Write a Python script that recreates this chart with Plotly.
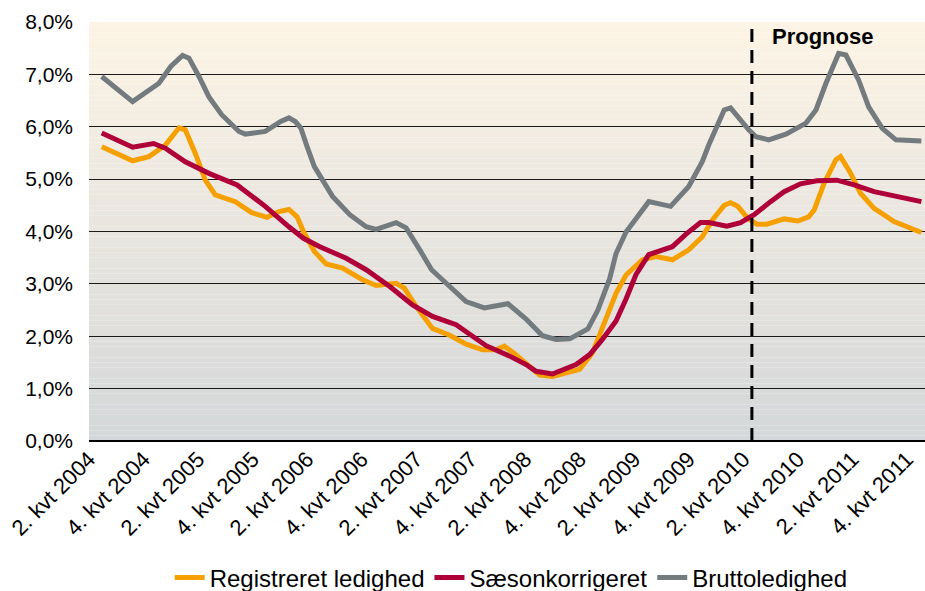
import plotly.graph_objects as go

# ---- data (x = months after the "2. kvt 2004" tick, y = unemployment %) ----
tick_labels = ["2. kvt 2004", "4. kvt 2004", "2. kvt 2005", "4. kvt 2005",
               "2. kvt 2006", "4. kvt 2006", "2. kvt 2007", "4. kvt 2007",
               "2. kvt 2008", "4. kvt 2008", "2. kvt 2009", "4. kvt 2009",
               "2. kvt 2010", "4. kvt 2010", "2. kvt 2011", "4. kvt 2011"]
tick_months = [0, 6, 12, 18, 24, 30, 36, 42, 48, 54, 60, 66, 72, 78, 84, 90]

y_ticks = [0, 1, 2, 3, 4, 5, 6, 7, 8]
y_tick_labels = ["0,0%", "1,0%", "2,0%", "3,0%", "4,0%", "5,0%", "6,0%", "7,0%", "8,0%"]

reg_t = [1.4, 4.8, 6.6, 8.4, 9.9, 10.6, 11.7, 12.8, 13.9, 16.1, 17.9, 19.6, 20.9,
         22.0, 22.9, 23.6, 24.8, 26.1, 27.9, 30.1, 31.6, 33.8, 34.7, 36.0, 37.8,
         39.7, 41.5, 43.3, 44.8, 45.7, 46.8, 48.1, 49.6, 51.0, 52.5, 54.0, 55.4,
         56.5, 58.0, 59.1, 60.9, 62.4, 64.2, 66.0, 67.5, 68.6, 69.9, 70.6, 71.4,
         72.5, 73.5, 74.6, 76.5, 78.0, 79.2, 79.8, 80.9, 82.2, 82.7, 83.8, 84.9,
         86.4, 88.6, 91.6]
reg_v = [5.62, 5.35, 5.43, 5.65, 5.98, 5.94, 5.49, 4.98, 4.70, 4.57, 4.36, 4.27, 4.38,
         4.42, 4.28, 4.00, 3.62, 3.38, 3.30, 3.08, 2.97, 3.01, 2.92, 2.57, 2.15,
         2.02, 1.85, 1.74, 1.74, 1.81, 1.67, 1.48, 1.26, 1.23, 1.30, 1.37, 1.68,
         2.19, 2.82, 3.17, 3.46, 3.52, 3.46, 3.65, 3.90, 4.22, 4.50, 4.55, 4.48,
         4.25, 4.14, 4.14, 4.24, 4.20, 4.28, 4.41, 4.92, 5.37, 5.43, 5.12, 4.73,
         4.44, 4.19, 3.98]

saes_t = [1.4, 4.8, 7.1, 8.4, 10.6, 13.2, 16.3, 19.4, 22.0, 23.6, 25.4, 28.3, 30.5,
          33.1, 35.6, 37.8, 40.4, 41.5, 43.7, 46.3, 48.1, 49.2, 51.0, 53.6, 55.1,
          56.5, 58.0, 59.1, 60.2, 61.6, 62.7, 64.2, 65.7, 67.3, 68.2, 70.2, 71.7,
          73.2, 75.0, 76.5, 78.3, 80.1, 82.3, 84.2, 86.4, 88.6, 91.6]
saes_v = [5.88, 5.61, 5.68, 5.59, 5.33, 5.11, 4.89, 4.48, 4.09, 3.87, 3.71, 3.49, 3.27,
          2.95, 2.60, 2.38, 2.22, 2.09, 1.82, 1.62, 1.46, 1.33, 1.28, 1.46, 1.65,
          1.94, 2.29, 2.71, 3.18, 3.56, 3.63, 3.71, 3.95, 4.17, 4.17, 4.10, 4.17,
          4.32, 4.57, 4.76, 4.91, 4.97, 4.98, 4.89, 4.76, 4.67, 4.57]

brutto_t = [1.4, 4.8, 7.7, 9.0, 10.3, 11.0, 12.1, 13.2, 14.6, 16.5, 17.2, 19.4, 21.1,
            22.0, 22.7, 23.3, 24.0, 24.8, 26.8, 28.7, 30.5, 31.6, 33.8, 34.9, 36.4,
            37.7, 39.7, 41.5, 43.5, 46.1, 48.1, 49.9, 51.4, 52.9, 54.9, 56.0, 57.3,
            58.0, 59.1, 61.6, 64.0, 66.0, 67.5, 68.2, 69.9, 70.6, 72.6, 73.4, 74.8,
            76.7, 78.9, 80.0, 81.1, 82.5, 83.3, 84.7, 85.8, 87.3, 88.8, 91.6]
brutto_v = [6.96, 6.48, 6.83, 7.15, 7.36, 7.31, 6.96, 6.57, 6.23, 5.91, 5.86, 5.91, 6.10,
            6.17, 6.10, 5.98, 5.62, 5.24, 4.67, 4.32, 4.09, 4.04, 4.17, 4.07, 3.65,
            3.27, 2.95, 2.66, 2.54, 2.62, 2.33, 2.01, 1.94, 1.95, 2.14, 2.50, 3.10,
            3.58, 3.99, 4.57, 4.48, 4.86, 5.34, 5.65, 6.32, 6.36, 5.94, 5.81, 5.75,
            5.86, 6.07, 6.32, 6.83, 7.40, 7.37, 6.89, 6.38, 5.97, 5.75, 5.73]

prognose_start = 72.95

# ---- figure ----
FONT = "Liberation Sans, Arial, sans-serif"
fig = go.Figure()

# gradient plot background (cream at top -> grey at bottom)
n_bands = 80
top_rgb = (253, 244, 229)
bot_rgb = (212, 215, 217)
for i in range(n_bands):
    f = (i + 0.5) / n_bands
    c = tuple(round(bot_rgb[k] + (top_rgb[k] - bot_rgb[k]) * f) for k in range(3))
    fig.add_shape(type="rect", xref="paper", yref="y", x0=0, x1=1,
                  y0=8 * i / n_bands, y1=8 * (i + 1) / n_bands,
                  fillcolor="rgb(%d,%d,%d)" % c, line_width=0, layer="below")

fig.add_trace(go.Scatter(x=reg_t, y=reg_v, mode="lines", name="Registreret ledighed",
                         line=dict(color="#F5A000", width=5)))
fig.add_trace(go.Scatter(x=saes_t, y=saes_v, mode="lines", name="Sæsonkorrigeret",
                         line=dict(color="#B0003A", width=5)))
fig.add_trace(go.Scatter(x=brutto_t, y=brutto_v, mode="lines", name="Bruttoledighed",
                         line=dict(color="#747B7F", width=5)))

fig.add_shape(type="line", xref="x", yref="paper", x0=prognose_start, x1=prognose_start,
              y0=0, y1=1, line=dict(color="black", width=3, dash="13px,8px"))
fig.add_annotation(x=0.877, y=0.965, xref="paper", yref="paper", text="<b>Prognose</b>",
                   showarrow=False, font=dict(family=FONT, size=22, color="black"),
                   xanchor="center", yanchor="middle")

fig.update_layout(
    width=925, height=591,
    margin=dict(l=89, r=0, t=22, b=150),
    paper_bgcolor="white", plot_bgcolor="rgba(0,0,0,0)",
    font=dict(family=FONT, color="black"),
    showlegend=True,
    legend=dict(orientation="h", x=0.505, xanchor="center",
                yref="container", y=0.022, yanchor="middle",
                font=dict(family=FONT, size=24, color="black"),
                bgcolor="rgba(0,0,0,0)"),
)
fig.update_xaxes(range=[0, 92.0], tickmode="array", tickvals=tick_months,
                 ticktext=tick_labels, tickangle=-45, showgrid=False, zeroline=False,
                 showline=False, ticks="", automargin=False, ticklabeloverflow="allow",
                 tickfont=dict(size=22, family=FONT, color="black"))
fig.update_yaxes(range=[0, 8], tickmode="array", tickvals=y_ticks, ticktext=y_tick_labels,
                 showgrid=True, gridcolor="#1a1a1a", gridwidth=1, zeroline=True,
                 zerolinecolor="black", zerolinewidth=1.5, showline=False, ticks="",
                 automargin=False, ticklabelstandoff=15, ticklabeloverflow="allow",
                 tickfont=dict(size=21, family=FONT, color="black"))

fig.write_html("out.html", config={"displayModeBar": False},
               post_script="document.body.style.margin='0';document.body.style.overflow='hidden';")
